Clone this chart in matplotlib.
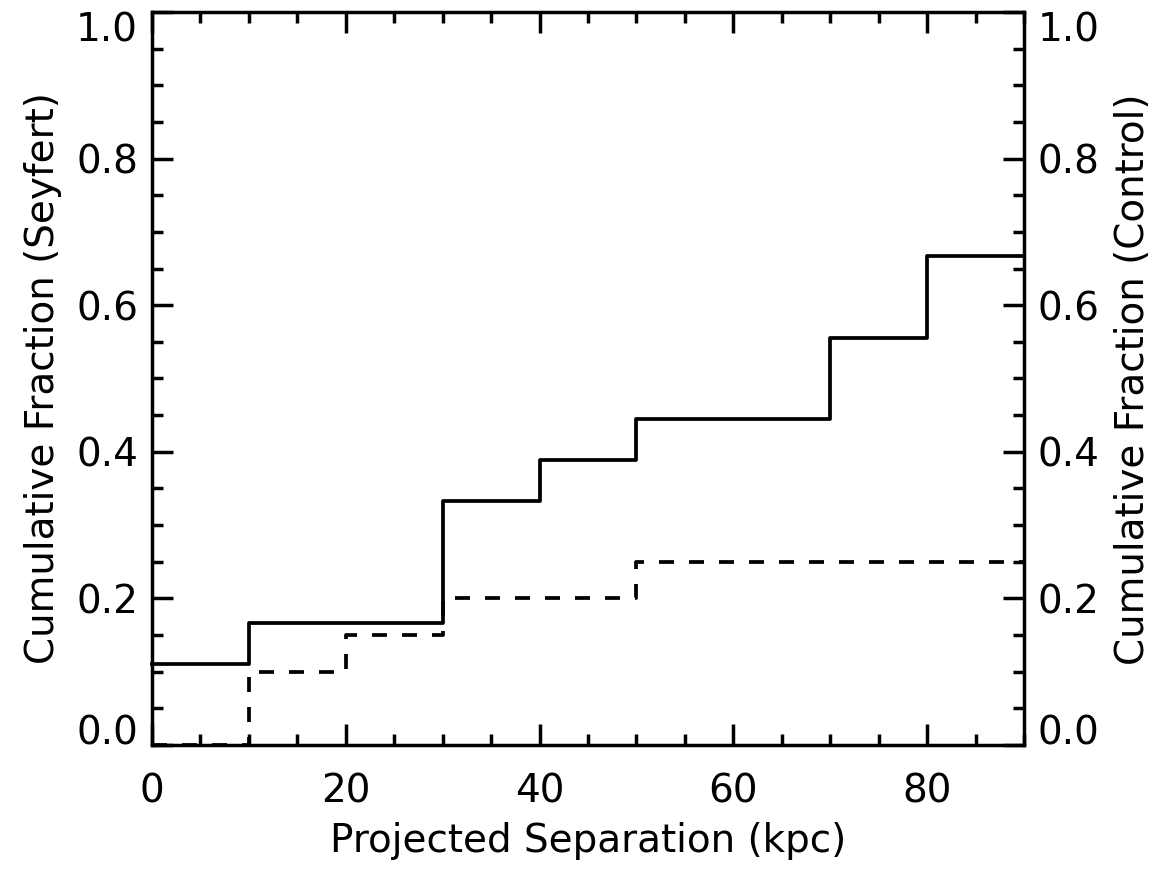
import matplotlib.pyplot as plt
from matplotlib.ticker import MultipleLocator

# separation bin edges (kpc) and cumulative fractions
seyfert_x = [0, 10, 30, 40, 50, 70, 80, 90]
seyfert_y = [2/18, 3/18, 6/18, 7/18, 8/18, 10/18, 12/18, 12/18]

control_x = [0, 10, 20, 30, 50, 90]
control_y = [0.0, 0.10, 0.15, 0.20, 0.25, 0.25]

x_ticks = [0, 20, 40, 60, 80]
y_ticks = [0.0, 0.2, 0.4, 0.6, 0.8, 1.0]

plt.rcParams['font.family'] = ['DejaVu Sans']
FS = 28

fig = plt.figure(figsize=(11.59, 8.69), dpi=100)
ax = fig.add_axes([0.1311, 0.1427, 0.8835 - 0.1311, 0.9862 - 0.1427])

ax.step(seyfert_x, seyfert_y, where='post', color='black', lw=2.7, clip_on=False)
ax.step(control_x, control_y, where='post', color='black', lw=2.7,
        dashes=(4, 4), clip_on=False)

ax.set_xlim(0, 90)
ax.set_ylim(0, 1.0)
ax.set_xticks(x_ticks)
ax.set_yticks(y_ticks)
ax.set_yticklabels([f'{v:.1f}' for v in y_ticks])
ax.xaxis.set_minor_locator(MultipleLocator(5))
ax.yaxis.set_minor_locator(MultipleLocator(0.05))

for s in ax.spines.values():
    s.set_linewidth(2.5)

ax.tick_params(which='both', direction='in', top=True, right=True,
               labelright=True, width=2.5, labelsize=FS)
ax.tick_params(which='major', length=15)
ax.tick_params(which='minor', length=8)
ax.tick_params(axis='x', which='major', pad=20)
ax.tick_params(axis='y', which='major', pad=10)

# end labels sit inside the axis range, as in the original
fig.canvas.draw()
for t in ax.yaxis.get_major_ticks():
    for lab in (t.label1, t.label2):
        if lab.get_text() == '0.0':
            lab.set_va('baseline')
        elif lab.get_text() == '1.0':
            lab.set_va('top')

ax.set_xlabel('Projected Separation (kpc)', fontsize=FS, labelpad=8)
ax.set_ylabel('Cumulative Fraction (Seyfert)', fontsize=FS, labelpad=10)
fig.text(1133 / 1159, 0.564, 'Cumulative Fraction (Control)', fontsize=FS,
         rotation=90, ha='center', va='center')

fig.savefig('out.png', dpi=100)
